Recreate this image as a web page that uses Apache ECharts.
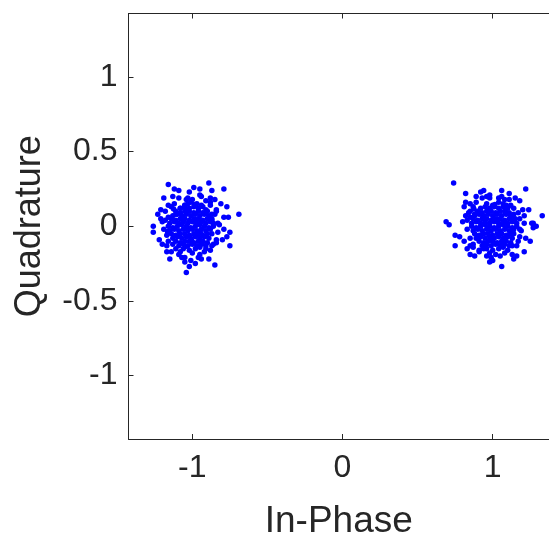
<!DOCTYPE html>
<html>
<head>
<meta charset="utf-8">
<script src="https://cdn.jsdelivr.net/npm/echarts@6/dist/echarts.min.js"></script>
<style>
html,body{margin:0;padding:0;background:#fff;}
#chart{width:549px;height:545px;}
</style>
</head>
<body>
<div id="chart"></div>
<script>
// Axis settings
var xTicks = [-1, 0, 1];
var yTicks = [-1, -0.5, 0, 0.5, 1];
var xMin = -1.425, xMax = 1.375;
var yMin = -1.425, yMax = 1.425;

// Symbol at -1 (estimated point positions)
var cluster1 = [
  [-1.16,0.28],[-1.12,0.25],[-1.09,0.24],[-1.02,0.23],[-0.99,0.26],[-1.19,0.19],[-1.13,0.20],[-1.09,0.19],
  [-1.04,0.18],[-1.00,0.18],[-1.16,0.14],[-1.14,0.13],[-1.21,0.11],[-1.23,0.08],[-1.26,0.00],[-1.21,0.05],
  [-1.18,0.04],[-1.16,0.06],[-1.11,0.08],[-1.08,0.12],[-1.05,0.14],[-1.03,0.15],[-1.03,0.11],
  [-0.89,0.29],[-0.95,0.25],[-0.87,0.24],[-0.79,0.25],[-0.95,0.21],[-0.88,0.19],[-0.85,0.18],[-0.91,0.17],
  [-0.81,0.15],[-0.77,0.13],[-0.88,0.14],[-0.84,0.11],[-0.69,0.08],[-0.79,0.06],[-0.76,0.06],[-0.85,0.08],
  [-0.83,0.02],[-0.87,0.04],
  [-1.26,-0.04],[-1.22,-0.09],[-1.20,-0.12],[-1.17,-0.13],[-1.17,-0.17],[-1.14,-0.17],[-1.15,-0.22],[-1.09,-0.19],
  [-1.07,-0.21],[-1.05,-0.21],[-1.05,-0.24],[-1.01,-0.23],[-1.02,-0.27],[-1.04,-0.31],[-0.98,-0.25],[-1.11,-0.15],
  [-0.79,-0.02],[-0.75,-0.04],[-0.77,-0.07],[-0.80,-0.09],[-0.75,-0.13],[-0.84,-0.11],[-0.87,-0.13],[-0.88,-0.16],
  [-0.95,-0.19],[-0.94,-0.22],[-0.89,-0.22],[-0.85,-0.26],[-0.91,-0.15],[-0.96,-0.21],
  [-1.05,0.14],[-1.01,0.16],[-0.97,0.15],[-0.94,0.14],
  [-1.08,0.12],[-1.05,0.13],[-1.02,0.12],[-0.99,0.13],[-0.96,0.12],[-0.93,0.13],[-0.91,0.11],
  [-1.11,0.10],[-1.08,0.09],[-1.05,0.10],[-1.02,0.10],[-0.99,0.09],[-0.96,0.10],[-0.93,0.09],[-0.90,0.10],
  [-1.13,0.07],[-1.10,0.08],[-1.07,0.07],[-1.04,0.08],[-1.01,0.07],[-0.98,0.08],[-0.95,0.07],[-0.92,0.08],[-0.89,0.07],[-0.87,0.08],
  [-1.14,0.05],[-1.11,0.04],[-1.08,0.05],[-1.05,0.05],[-1.02,0.04],[-0.99,0.05],[-0.96,0.05],[-0.93,0.04],[-0.90,0.05],[-0.87,0.05],
  [-1.15,0.02],[-1.12,0.03],[-1.09,0.02],[-1.06,0.03],[-1.03,0.02],[-1.00,0.03],[-0.97,0.02],[-0.94,0.03],[-0.91,0.02],[-0.88,0.03],[-0.86,0.02],
  [-1.16,0.00],[-1.13,-0.01],[-1.10,0.00],[-1.07,0.01],[-1.04,0.00],[-1.01,-0.01],[-0.98,0.00],[-0.95,0.01],[-0.92,0.00],[-0.89,-0.01],[-0.86,0.00],
  [-1.15,-0.03],[-1.12,-0.02],[-1.09,-0.03],[-1.06,-0.02],[-1.03,-0.03],[-1.00,-0.02],[-0.97,-0.03],[-0.94,-0.02],[-0.91,-0.03],[-0.88,-0.02],
  [-1.14,-0.05],[-1.11,-0.06],[-1.08,-0.05],[-1.05,-0.05],[-1.02,-0.06],[-0.99,-0.05],[-0.96,-0.05],[-0.93,-0.06],[-0.90,-0.05],[-0.87,-0.05],
  [-1.13,-0.08],[-1.10,-0.07],[-1.07,-0.08],[-1.04,-0.07],[-1.01,-0.08],[-0.98,-0.07],[-0.95,-0.08],[-0.92,-0.07],[-0.89,-0.08],
  [-1.11,-0.10],[-1.08,-0.11],[-1.05,-0.10],[-1.02,-0.10],[-0.99,-0.11],[-0.96,-0.10],[-0.93,-0.10],[-0.90,-0.11],
  [-1.09,-0.13],[-1.06,-0.12],[-1.03,-0.13],[-1.00,-0.12],[-0.97,-0.13],[-0.94,-0.12],[-0.91,-0.13],
  [-1.06,-0.15],[-1.02,-0.16],[-0.98,-0.15],[-0.95,-0.14],
  [-1.18,0.10],[-1.17,-0.06],[-1.19,-0.02],[-1.12,0.15],[-0.88,0.16],[-0.84,0.10],[-0.83,-0.04],[-0.84,-0.09],
  [-1.13,-0.12],[-1.08,-0.17],[-0.92,-0.17],[-1.00,-0.18],[-1.03,0.19],[-0.94,0.20],[-1.20,0.03],[-0.82,0.01],
  [-0.86,-0.12],[-1.16,-0.10],
  [-1.065,0.065],[-0.975,0.035],[-1.035,-0.015],[-0.945,-0.045],[-1.095,-0.065],[-1.005,-0.095],[-0.915,0.085],
  [-1.125,0.115],[-0.985,0.145],[-1.045,-0.135],[-0.935,-0.115],[-1.165,-0.035]
];

// Symbol at +1 (estimated point positions)
var cluster2 = [
  [0.74,0.29],[0.82,0.22],[0.92,0.23],[0.94,0.24],[0.89,0.20],[0.93,0.19],[0.96,0.20],[0.98,0.21],
  [0.82,0.16],[0.85,0.15],[0.81,0.13],[0.87,0.13],[0.85,0.10],[0.88,0.08],[0.85,0.06],[0.83,0.04],
  [0.69,0.03],[0.80,0.03],
  [1.06,0.24],[1.11,0.22],[1.22,0.25],[1.04,0.19],[1.08,0.18],[1.11,0.18],[1.15,0.19],[1.18,0.17],
  [1.09,0.14],[1.14,0.12],[1.20,0.11],[1.24,0.11],[1.17,0.09],[1.21,0.07],[1.33,0.07],[1.26,0.02],[1.15,0.05],
  [0.71,0.01],[0.75,-0.06],[0.78,-0.07],[0.75,-0.13],[0.81,-0.10],[0.85,-0.13],[0.83,-0.15],[0.87,-0.14],
  [0.85,-0.19],[0.88,-0.20],[0.91,-0.16],[0.94,-0.15],[0.98,-0.18],[0.96,-0.20],[0.98,-0.24],[0.99,-0.21],
  [1.27,0.02],[1.29,0.00],[1.27,-0.01],[1.18,-0.02],[1.18,-0.07],[1.22,-0.08],[1.25,-0.10],[1.16,-0.13],
  [1.13,-0.13],[1.21,-0.17],[1.16,-0.20],[1.13,-0.19],[1.14,-0.22],[1.06,-0.27],[1.08,-0.18],[1.05,-0.20],[1.00,-0.23],
  [0.96,0.15],[1.00,0.14],[1.04,0.16],[1.07,0.15],
  [0.92,0.12],[0.95,0.13],[0.98,0.12],[1.01,0.13],[1.04,0.12],[1.07,0.13],[1.10,0.12],
  [0.90,0.10],[0.93,0.09],[0.96,0.10],[0.99,0.10],[1.02,0.09],[1.05,0.10],[1.08,0.10],[1.11,0.09],
  [0.88,0.07],[0.91,0.08],[0.94,0.07],[0.97,0.08],[1.00,0.07],[1.03,0.08],[1.06,0.07],[1.09,0.08],[1.12,0.07],[1.14,0.08],
  [0.87,0.05],[0.90,0.04],[0.93,0.05],[0.96,0.05],[0.99,0.04],[1.02,0.05],[1.05,0.05],[1.08,0.04],[1.11,0.05],[1.14,0.05],
  [0.86,0.02],[0.89,0.03],[0.92,0.02],[0.95,0.03],[0.98,0.02],[1.01,0.03],[1.04,0.02],[1.07,0.03],[1.10,0.02],[1.13,0.03],[1.16,0.02],
  [0.86,0.00],[0.89,-0.01],[0.92,0.00],[0.95,0.01],[0.98,0.00],[1.01,-0.01],[1.04,0.00],[1.07,0.01],[1.10,0.00],[1.13,-0.01],[1.16,0.00],
  [0.87,-0.03],[0.90,-0.02],[0.93,-0.03],[0.96,-0.02],[0.99,-0.03],[1.02,-0.02],[1.05,-0.03],[1.08,-0.02],[1.11,-0.03],[1.14,-0.02],
  [0.88,-0.05],[0.91,-0.06],[0.94,-0.05],[0.97,-0.05],[1.00,-0.06],[1.03,-0.05],[1.06,-0.05],[1.09,-0.06],[1.12,-0.05],[1.14,-0.05],
  [0.89,-0.08],[0.92,-0.07],[0.95,-0.08],[0.98,-0.07],[1.01,-0.08],[1.04,-0.07],[1.07,-0.08],[1.10,-0.07],[1.13,-0.08],
  [0.91,-0.10],[0.94,-0.11],[0.97,-0.10],[1.00,-0.10],[1.03,-0.11],[1.06,-0.10],[1.09,-0.10],[1.12,-0.11],
  [0.93,-0.13],[0.96,-0.12],[0.99,-0.13],[1.02,-0.12],[1.05,-0.13],[1.08,-0.12],[1.11,-0.13],
  [0.96,-0.15],[1.00,-0.16],[1.04,-0.15],[1.07,-0.14],
  [0.84,0.09],[0.83,-0.02],[0.85,-0.08],[0.89,0.16],[1.12,0.14],[1.18,0.05],[1.19,-0.03],[1.17,-0.10],
  [1.10,-0.16],[0.91,-0.17],[1.02,-0.19],[0.98,0.19],[1.06,0.20],[0.82,0.07],[1.21,0.02],[0.87,-0.12],
  [0.935,0.065],[1.025,0.035],[0.965,-0.015],[1.055,-0.045],[0.905,-0.065],[0.995,-0.095],[1.085,0.085],
  [0.875,0.115],[1.015,0.145],[0.955,-0.135],[1.065,-0.115],[1.135,-0.035]
];

var xName = 'In-Phase';
var yName = 'Quadrature';

var textColor = '#262626';
var lineColor = '#262626';
var font = 'Liberation Sans, Arial, Helvetica, sans-serif';

function fmt(v){ return String(v); }

var chart = echarts.init(document.getElementById('chart'), null, {renderer:'canvas'});
chart.setOption({
  animation: false,
  backgroundColor: '#ffffff',
  grid: {left: 128.5, top: 13.5, right: 0, bottom: 103.5, containLabel: false},
  xAxis: [
    {
      type: 'value', min: xMin, max: xMax, position: 'bottom',
      splitLine: {show: false},
      axisLine: {show: true, onZero: false, lineStyle: {color: lineColor, width: 1}},
      name: xName, nameLocation: 'middle', nameGap: 64,
      nameTextStyle: {color: textColor, fontSize: 37, fontFamily: font},
      axisTick: {show: true, inside: true, length: 5, customValues: xTicks, lineStyle: {color: lineColor}},
      axisLabel: {show: true, margin: 13, customValues: xTicks, formatter: fmt, color: textColor, fontSize: 32, fontFamily: font}
    },
    {
      type: 'value', min: xMin, max: xMax, position: 'top',
      splitLine: {show: false},
      axisLine: {show: true, onZero: false, lineStyle: {color: lineColor, width: 1}},
      axisTick: {show: true, inside: true, length: 5, customValues: xTicks, lineStyle: {color: lineColor}},
      axisLabel: {show: false}
    }
  ],
  yAxis: [
    {
      type: 'value', min: yMin, max: yMax, position: 'left',
      splitLine: {show: false},
      axisLine: {show: true, onZero: false, lineStyle: {color: lineColor, width: 1}},
      name: yName, nameLocation: 'middle', nameGap: 80,
      nameTextStyle: {color: textColor, fontSize: 36, fontFamily: font},
      axisTick: {show: true, inside: true, length: 5, customValues: yTicks, lineStyle: {color: lineColor}},
      axisLabel: {show: true, margin: 11, customValues: yTicks, formatter: fmt, color: textColor, fontSize: 32, fontFamily: font}
    }
  ],
  series: [
    {type: 'scatter', data: cluster1, symbol: 'circle', symbolSize: 5.5, itemStyle: {color: '#0000ff', opacity: 1}},
    {type: 'scatter', data: cluster2, symbol: 'circle', symbolSize: 5.5, itemStyle: {color: '#0000ff', opacity: 1}}
  ]
});
</script>
</body>
</html>
